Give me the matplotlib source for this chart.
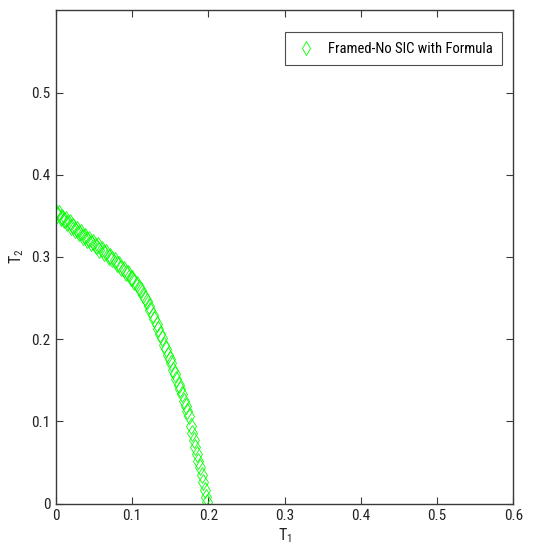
import matplotlib
matplotlib.use("Agg")
import matplotlib.pyplot as plt

plt.rcParams['font.family'] = ['Roboto Condensed', 'Archivo Narrow', 'DejaVu Sans']
plt.rcParams['mathtext.fontset'] = 'custom'
plt.rcParams['mathtext.rm'] = 'Roboto Condensed'
plt.rcParams['mathtext.it'] = 'Roboto Condensed'

t1 = [0.000,0.002,0.004,0.006,0.008,0.011,0.013,0.015,0.018,0.020,0.023,0.025,0.028,0.030,
      0.033,0.036,0.038,0.041,0.044,0.046,0.049,0.052,0.055,0.057,0.060,0.063,0.066,0.069,
      0.071,0.074,0.077,0.080,0.083,0.086,0.089,0.092,0.095,0.098,0.100,0.103,0.106,0.109,
      0.111,0.114,0.117,0.119,0.122,0.124,0.127,0.129,0.132,0.134,0.137,0.139,0.142,0.144,
      0.147,0.149,0.151,0.154,0.156,0.158,0.161,0.163,0.165,0.168,0.170,0.172,0.174,0.177,
      0.179,0.181,0.183,0.185,0.187,0.189,0.191,0.193,0.195,0.197,0.198]
t2 = [0.355,0.351,0.353,0.348,0.349,0.345,0.346,0.341,0.342,0.337,0.338,0.333,0.334,0.329,
      0.330,0.324,0.326,0.321,0.322,0.317,0.318,0.313,0.314,0.309,0.310,0.305,0.306,0.300,
      0.301,0.297,0.296,0.292,0.291,0.287,0.286,0.281,0.280,0.275,0.274,0.269,0.267,0.262,
      0.260,0.254,0.250,0.246,0.240,0.236,0.229,0.225,0.218,0.213,0.206,0.201,0.193,0.188,
      0.181,0.176,0.171,0.163,0.158,0.152,0.144,0.139,0.133,0.125,0.119,0.113,0.107,0.094,
      0.086,0.077,0.069,0.061,0.052,0.044,0.035,0.026,0.017,0.008,0.002]

xticks = [0, 0.1, 0.2, 0.3, 0.4, 0.5, 0.6]
xticklabels = ['0', '0.1', '0.2', '0.3', '0.4', '0.5', '0.6']
yticks = [0, 0.1, 0.2, 0.3, 0.4, 0.5]
yticklabels = ['0', '0.1', '0.2', '0.3', '0.4', '0.5']
series_label = 'Framed-No SIC with Formula'

fig = plt.figure(figsize=(5.38, 5.59), dpi=100)
ax = fig.add_axes([0.104, 0.099, 0.850, 0.884])
green = '#00ff00'
ax.plot(t1, t2, linestyle='none', marker='d', markersize=8.5, markerfacecolor='none',
        markeredgecolor=green, markeredgewidth=0.6, label=series_label)

ax.set_xlim(0, 0.6)
ax.set_ylim(0, 0.601)
ax.set_xticks(xticks)
ax.set_xticklabels(xticklabels)
ax.set_yticks(yticks)
ax.set_yticklabels(yticklabels)
edge = '#3a3a3a'
for s in ax.spines.values():
    s.set_color(edge)
    s.set_linewidth(1.0)
ax.tick_params(direction='in', length=5, width=0.8, color=edge, top=True, right=True,
               labelsize=11, labelcolor='#222222', pad=4)
ax.set_xlabel('T$_1$', fontsize=11.5, color='#222222', labelpad=2)
ax.set_ylabel('T$_2$', fontsize=11.5, color='#222222', labelpad=4)

leg = ax.legend(loc='upper right', bbox_to_anchor=(0.976, 0.954), fontsize=10.5,
                frameon=True, fancybox=False, borderpad=0.65, handlelength=1.6,
                handletextpad=0.7, borderaxespad=0, markerscale=0.85)
leg.get_frame().set_edgecolor('#222222')
leg.get_frame().set_linewidth(0.8)

fig.savefig('out.png', dpi=100)
